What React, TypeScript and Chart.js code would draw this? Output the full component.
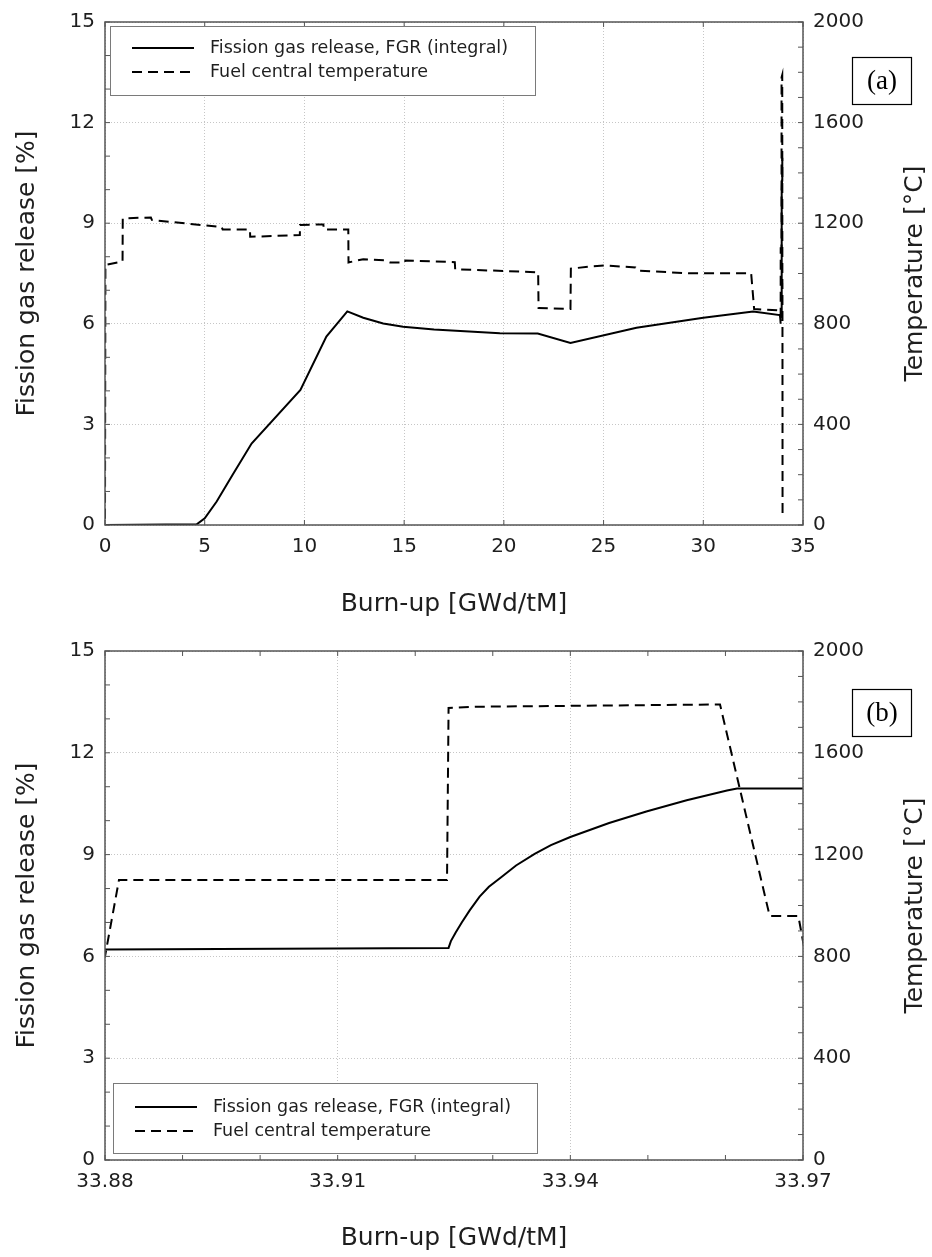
import React, { useEffect, useRef } from 'react';
import { Chart, registerables } from 'chart.js';

Chart.register(...registerables);

// ---------------- data ----------------
const burnupFGR = [
  0, 4.6, 5.0, 5.6, 6.4, 7.35, 9.8, 11.1, 12.15, 12.95,
  13.95, 14.95, 16.5, 19.8, 21.7, 23.34, 26.65, 30.0, 32.5, 33.83,
  33.88, 33.9243, 33.9246, 33.9252, 33.926, 33.927, 33.9283, 33.9295, 33.931, 33.933,
  33.9354, 33.9375, 33.94, 33.945, 33.9498, 33.955, 33.9602, 33.9615, 33.97,
];
const fgrPercent = [
  0, 0.02, 0.2, 0.7, 1.5, 2.43, 4.03, 5.62, 6.37, 6.18,
  6.01, 5.91, 5.83, 5.72, 5.71, 5.43, 5.88, 6.18, 6.37, 6.26,
  6.2, 6.25, 6.45, 6.7, 7.0, 7.35, 7.76, 8.05, 8.32, 8.68,
  9.02, 9.28, 9.52, 9.93, 10.27, 10.6, 10.89, 10.95, 10.95,
];

const burnupTemp = [
  0, 0.02, 0.88, 0.89, 2.3, 2.35, 4.8, 5.85, 5.9, 7.27,
  7.28, 9.77, 9.78, 10.95, 10.97, 12.2, 12.21, 12.95, 14.0, 14.3,
  15.04, 15.06, 17.54, 17.56, 21.72, 21.74, 23.34, 23.36, 24.3, 25.1,
  26.6, 26.73, 29.3, 32.4, 32.55, 33.83, 33.88, 33.8818, 33.9241, 33.9243,
  33.928, 33.9593, 33.9657, 33.9694, 33.975,
];
const temperatureC = [
  25, 1034, 1048, 1219, 1223, 1213, 1193, 1185, 1175, 1175,
  1146, 1153, 1193, 1195, 1175, 1175, 1044, 1057, 1053, 1044,
  1044, 1052, 1045, 1017, 1005, 863, 859, 1019, 1028, 1032,
  1024, 1011, 1001, 1001, 859, 853, 800, 1100, 1100, 1776,
  1781, 1790, 959, 959, 25,
];

const seriesLabels = ['Fission gas release, FGR (integral)', 'Fuel central temperature'];

const xTicksA = [0, 5, 10, 15, 20, 25, 30, 35];
const xMinorA: number[] = [];
const xTicksB = [33.88, 33.91, 33.94, 33.97];
const xMinorB = [33.89, 33.9, 33.92, 33.93, 33.95, 33.96];
const fgrTicks = [0, 3, 6, 9, 12, 15];
const fgrMinor = [1, 2, 4, 5, 7, 8, 10, 11, 13, 14];
const tempTicks = [0, 400, 800, 1200, 1600, 2000];
const tempMinor = [100, 200, 300, 500, 600, 700, 900, 1000, 1100, 1300, 1400, 1500, 1700, 1800, 1900];

const FAMILY = '"DejaVu Sans", sans-serif';
const TEXT = '#1e1e1e';

type Panel = {
  height: number;
  top: number;
  bottom: number;
  xMin: number;
  xMax: number;
  xTicks: number[];
  xMinor: number[];
  decimals: number;
  xTitlePad: number;
  legend: { x: number; y: number; w: number; h: number; sx0: number; sx1: number; tx: number; ly: number[] };
  tag: { text: string; x: number; y: number; w: number; h: number };
};

const panelA: Panel = {
  height: 628,
  top: 19,
  bottom: 525,
  xMin: 0,
  xMax: 35,
  xTicks: xTicksA,
  xMinor: xMinorA,
  decimals: 0,
  xTitlePad: 9,
  legend: { x: 110, y: 26, w: 425, h: 69, sx0: 132, sx1: 194, tx: 210, ly: [48, 72] },
  tag: { text: '(a)', x: 852, y: 57, w: 59, h: 47 },
};

const panelB: Panel = {
  height: 629,
  top: 23,
  bottom: 532,
  xMin: 33.88,
  xMax: 33.97,
  xTicks: xTicksB,
  xMinor: xMinorB,
  decimals: 2,
  xTitlePad: 4,
  legend: { x: 113, y: 455, w: 424, h: 70, sx0: 135, sx1: 197, tx: 213, ly: [479, 503] },
  tag: { text: '(b)', x: 852, y: 61, w: 59, h: 47 },
};

const decorPlugin = {
  id: 'decor',
  afterDraw(chart: any, _args: any, opts: any) {
    const p: Panel = opts.panel;
    if (!p) return;
    const { ctx, chartArea: a, scales } = chart;
    const line = (x1: number, y1: number, x2: number, y2: number) => {
      ctx.beginPath();
      ctx.moveTo(x1, y1);
      ctx.lineTo(x2, y2);
      ctx.stroke();
    };
    ctx.save();
    // frame
    ctx.setLineDash([]);
    ctx.strokeStyle = '#555';
    ctx.lineWidth = 1.5;
    ctx.strokeRect(a.left, a.top, a.right - a.left, a.bottom - a.top);
    // inward tick marks
    ctx.lineWidth = 1;
    const len = 5;
    [...p.xTicks, ...p.xMinor].forEach((v) => {
      const px = scales.x.getPixelForValue(v);
      line(px, a.bottom, px, a.bottom - len);
      line(px, a.top, px, a.top + len);
    });
    [...fgrTicks, ...fgrMinor].forEach((v) => {
      const py = scales.y.getPixelForValue(v);
      line(a.left, py, a.left + len, py);
    });
    [...tempTicks, ...tempMinor].forEach((v) => {
      const py = scales.y2.getPixelForValue(v);
      line(a.right, py, a.right - len, py);
    });
    // right axis title (reads bottom-to-top)
    ctx.save();
    ctx.translate(915, (a.top + a.bottom) / 2);
    ctx.rotate(-Math.PI / 2);
    ctx.fillStyle = TEXT;
    ctx.font = `25px ${FAMILY}`;
    ctx.textAlign = 'center';
    ctx.textBaseline = 'middle';
    ctx.fillText('Temperature [°C]', 0, 0);
    ctx.restore();
    // legend
    const L = p.legend;
    ctx.fillStyle = '#fff';
    ctx.fillRect(L.x, L.y, L.w, L.h);
    ctx.strokeStyle = '#7a7a7a';
    ctx.lineWidth = 1;
    ctx.strokeRect(L.x + 0.5, L.y + 0.5, L.w, L.h);
    chart.data.datasets.forEach((ds: any, i: number) => {
      const yy = L.ly[i];
      ctx.setLineDash(ds.borderDash || []);
      ctx.strokeStyle = ds.borderColor;
      ctx.lineWidth = ds.borderWidth;
      line(L.sx0, yy, L.sx1, yy);
      ctx.setLineDash([]);
      ctx.fillStyle = TEXT;
      ctx.font = `17.5px ${FAMILY}`;
      ctx.textAlign = 'left';
      ctx.textBaseline = 'middle';
      ctx.fillText(ds.label, L.tx, yy);
    });
    // panel tag
    const T = p.tag;
    ctx.strokeStyle = '#000';
    ctx.lineWidth = 1.2;
    ctx.strokeRect(T.x + 0.5, T.y + 0.5, T.w, T.h);
    ctx.fillStyle = '#000';
    ctx.font = `27px "Liberation Serif", serif`;
    ctx.textAlign = 'center';
    ctx.textBaseline = 'middle';
    ctx.fillText(T.text, T.x + T.w / 2 + 0.5, T.y + T.h / 2 + 1);
    ctx.restore();
  },
};

function buildConfig(p: Panel): any {
  const tickFont = { family: FAMILY, size: 20 };
  const titleFont = { family: FAMILY, size: 25 };
  const gridStyle = { color: '#c6c6c6', lineWidth: 1, drawTicks: false };
  return {
    type: 'line',
    data: {
      datasets: [
        {
          label: seriesLabels[0],
          data: burnupFGR.map((x, i) => ({ x, y: fgrPercent[i] })),
          yAxisID: 'y',
          borderColor: '#000',
          borderWidth: 2,
          pointRadius: 0,
          tension: 0,
          fill: false,
        },
        {
          label: seriesLabels[1],
          data: burnupTemp.map((x, i) => ({ x, y: temperatureC[i] })),
          yAxisID: 'y2',
          borderColor: '#000',
          borderWidth: 2,
          borderDash: [10, 6],
          pointRadius: 0,
          tension: 0,
          fill: false,
        },
      ],
    },
    options: {
      responsive: false,
      animation: false,
      layout: { padding: { top: p.top, left: 0, right: 0, bottom: 0 } },
      plugins: {
        legend: { display: false },
        tooltip: { enabled: false },
        decor: { panel: p },
      },
      scales: {
        x: {
          type: 'linear',
          position: 'bottom',
          min: p.xMin,
          max: p.xMax,
          afterBuildTicks: (s: any) => {
            s.ticks = p.xTicks.map((v) => ({ value: v }));
          },
          afterFit: (s: any) => {
            s.height = p.height - p.bottom;
          },
          ticks: {
            font: tickFont,
            color: TEXT,
            padding: 10,
            maxRotation: 0,
            autoSkip: false,
            callback: (v: any) => Number(v).toFixed(p.decimals),
          },
          grid: gridStyle,
          border: { display: false, dash: [1, 2] },
          title: {
            display: true,
            text: 'Burn-up [GWd/tM]',
            font: titleFont,
            color: TEXT,
            padding: { top: 0, bottom: p.xTitlePad },
          },
        },
        y: {
          type: 'linear',
          position: 'left',
          min: 0,
          max: 15,
          afterBuildTicks: (s: any) => {
            s.ticks = fgrTicks.map((v) => ({ value: v }));
          },
          afterFit: (s: any) => {
            s.width = 105;
          },
          ticks: { font: tickFont, color: TEXT, padding: 10, callback: (v: any) => String(v) },
          grid: gridStyle,
          border: { display: false, dash: [1, 2] },
          title: {
            display: true,
            text: 'Fission gas release [%]',
            font: titleFont,
            color: TEXT,
            padding: { top: 12, bottom: 0 },
          },
        },
        y2: {
          type: 'linear',
          position: 'right',
          min: 0,
          max: 2000,
          afterBuildTicks: (s: any) => {
            s.ticks = tempTicks.map((v) => ({ value: v }));
          },
          afterFit: (s: any) => {
            s.width = 932 - 803;
          },
          ticks: { font: tickFont, color: TEXT, padding: 10, callback: (v: any) => String(v) },
          grid: { drawOnChartArea: false, drawTicks: false },
          border: { display: false },
        },
      },
    },
    plugins: [decorPlugin],
  };
}

function PanelChart({ panel }: { panel: Panel }) {
  const ref = useRef<HTMLCanvasElement | null>(null);
  useEffect(() => {
    if (!ref.current) return;
    const chart = new Chart(ref.current, buildConfig(panel));
    return () => chart.destroy();
  }, [panel]);
  return (
    <div style={{ width: 932, height: panel.height, position: 'relative' }}>
      <canvas ref={ref} width={932} height={panel.height} style={{ width: 932, height: panel.height, display: 'block' }} />
    </div>
  );
}

export default function App() {
  return (
    <div style={{ position: 'absolute', left: 0, top: 0, width: 932, height: 1257, background: '#fff' }}>
      <PanelChart panel={panelA} />
      <PanelChart panel={panelB} />
    </div>
  );
}
